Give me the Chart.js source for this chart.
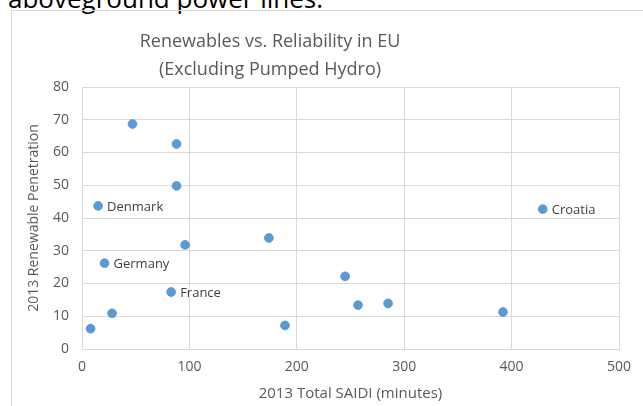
<!DOCTYPE html>
<html>
<head>
<meta charset="utf-8">
<script src="https://cdn.jsdelivr.net/npm/chart.js@4.4.1/dist/chart.umd.min.js"></script>
<style>
  body { margin: 0; background: #fff; overflow: hidden; width: 643px; height: 406px; position: relative; }
  .lead { position: absolute; left: 8px; top: -15px; font: 26px/26px "Open Sans", sans-serif; color: #000; white-space: nowrap; }
  .frame { position: absolute; left: 11px; top: 10px; width: 640px; height: 400px; border: 1px solid #d9d9d9; }
  .plot { position: absolute; left: 0; top: 0; width: 631px; height: 395px; }
</style>
</head>
<body>
<div class="lead">aboveground power lines.</div>
<div class="frame">
  <div class="plot"><canvas id="scatter-chart"></canvas></div>
</div>
<script>
// values
var saidi = [8, 28, 21, 15, 47, 88, 88, 83, 96, 174, 189, 245, 257, 285, 392, 429];
var penetration = [6.2, 10.9, 26.2, 43.7, 68.7, 62.6, 49.8, 17.4, 31.8, 33.9, 7.2, 22.2, 13.4, 13.9, 11.3, 42.7];
var countryNames = ["", "", "Germany", "Denmark", "", "", "", "France", "", "", "", "", "", "", "", "Croatia"];
var titleLines = ["Renewables vs. Reliability in EU", "(Excluding Pumped Hydro)"];
var xTicks = [0, 100, 200, 300, 400, 500];
var yTicks = [0, 10, 20, 30, 40, 50, 60, 70, 80];

var points = saidi.map(function(x, i) {
  return {x: x, y: penetration[i]};
});

// chart title, drawn in the same spot Excel put it
var titlePlugin = {
  id: "excelTitle",
  afterDraw: function(chart) {
    var ctx = chart.ctx;
    ctx.save();
    ctx.fillStyle = "#595959";
    ctx.font = "18px 'Open Sans', sans-serif";
    ctx.textAlign = "center";
    ctx.textBaseline = "alphabetic";
    ctx.fillText(titleLines[0], 258, 36);
    ctx.fillText(titleLines[1], 258, 64);
    ctx.restore();
  }
};

// country names next to a few of the dots
var pointLabels = {
  id: "pointLabels",
  afterDatasetsDraw: function(chart) {
    var ctx = chart.ctx;
    var meta = chart.getDatasetMeta(0);
    ctx.save();
    ctx.fillStyle = "#404040";
    ctx.font = "13px 'Open Sans', sans-serif";
    ctx.textAlign = "left";
    ctx.textBaseline = "middle";
    meta.data.forEach(function(el, i) {
      if (countryNames[i]) {
        ctx.fillText(countryNames[i], el.x + 9, el.y + 1);
      }
    });
    ctx.restore();
  }
};

var tickFont = {family: "'Open Sans', sans-serif", size: 14};

new Chart(document.getElementById("scatter-chart"), {
  type: "scatter",
  data: {
    datasets: [{
      data: points,
      backgroundColor: "#5b9bd5",
      borderColor: "#4f8fca",
      borderWidth: 0.75,
      pointRadius: 4.4,
      pointHoverRadius: 4.4
    }]
  },
  options: {
    responsive: true,
    maintainAspectRatio: false,
    animation: false,
    layout: {padding: {top: 76, right: 24, left: 0, bottom: 0}},
    plugins: {
      legend: {display: false},
      tooltip: {enabled: false}
    },
    scales: {
      x: {
        type: "linear",
        min: xTicks[0],
        max: xTicks[xTicks.length - 1],
        afterFit: function(scale) { scale.height = 57; },
        afterBuildTicks: function(scale) {
          scale.ticks = xTicks.map(function(v) { return {value: v}; });
        },
        grid: {color: "#d9d9d9", drawTicks: false},
        border: {color: "#d9d9d9"},
        ticks: {color: "#595959", font: tickFont, padding: 10, maxRotation: 0},
        title: {
          display: true,
          text: "2013 Total SAIDI (minutes)",
          color: "#595959",
          font: {family: "'Open Sans', sans-serif", size: 15},
          padding: {top: 0, bottom: 3}
        }
      },
      y: {
        type: "linear",
        min: yTicks[0],
        max: yTicks[yTicks.length - 1],
        afterFit: function(scale) { scale.width = 70; },
        afterBuildTicks: function(scale) {
          scale.ticks = yTicks.map(function(v) { return {value: v}; });
        },
        grid: {color: "#d9d9d9", drawTicks: false},
        border: {color: "#d9d9d9"},
        ticks: {color: "#595959", font: tickFont, padding: 13},
        title: {
          display: true,
          text: "2013 Renewable Penetration",
          color: "#595959",
          font: {family: "'Open Sans', sans-serif", size: 14},
          padding: {top: 14, bottom: 0}
        }
      }
    }
  },
  plugins: [titlePlugin, pointLabels]
});
</script>
</body>
</html>
